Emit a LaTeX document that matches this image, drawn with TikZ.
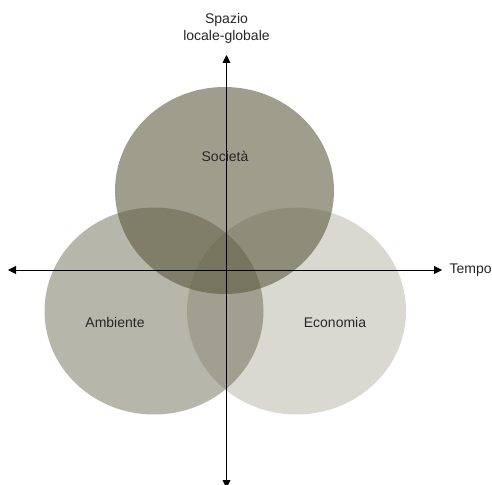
\documentclass[tikz,border=0pt]{standalone}
\usepackage{fontspec}
\setmainfont{Liberation Sans}
\usetikzlibrary{arrows.meta}

\begin{document}
\begin{tikzpicture}[x=1pt,y=-1pt]
    % Colori
    \definecolor{vennbase}{RGB}{84,82,52}
    \tikzset{
        asse/.style={line width=0.9pt,{Triangle[length=8pt,width=8pt]}-{Triangle[length=8pt,width=8pt]}},
        etichetta/.style={font=\fontsize{14}{16.5}\selectfont,text=black!85,align=center}
    }

    \useasboundingbox (0,0) rectangle (492,484);

    % Cerchi
    \fill[vennbase,fill opacity=0.22] (296.5,311) ellipse [x radius=109.5,y radius=103.5];
    \fill[vennbase,fill opacity=0.42] (154,311) ellipse [x radius=109.5,y radius=103.5];
    \fill[vennbase,fill opacity=0.56] (224.5,190.5) ellipse [x radius=109.5,y radius=103.5];

    % Assi
    \coordinate (sinistra) at (8,270);
    \coordinate (destra) at (442,270);
    \coordinate (alto) at (226.5,55);
    \coordinate (basso) at (226.5,488);
    \draw[asse] (sinistra) -- (destra);
    \draw[asse] (basso) -- (alto);

    % Etichette
    \node[etichetta] (spazio) at (226.5,28.5) {Spazio\\locale-globale};
    \node[etichetta,anchor=west] (tempo) at (446,270) {Tempo};
    \node[etichetta] (societa) at (225,156) {Società};
    \node[etichetta] (ambiente) at (115,322) {Ambiente};
    \node[etichetta] (economia) at (335,322) {Economia};

\end{tikzpicture}
\end{document}
